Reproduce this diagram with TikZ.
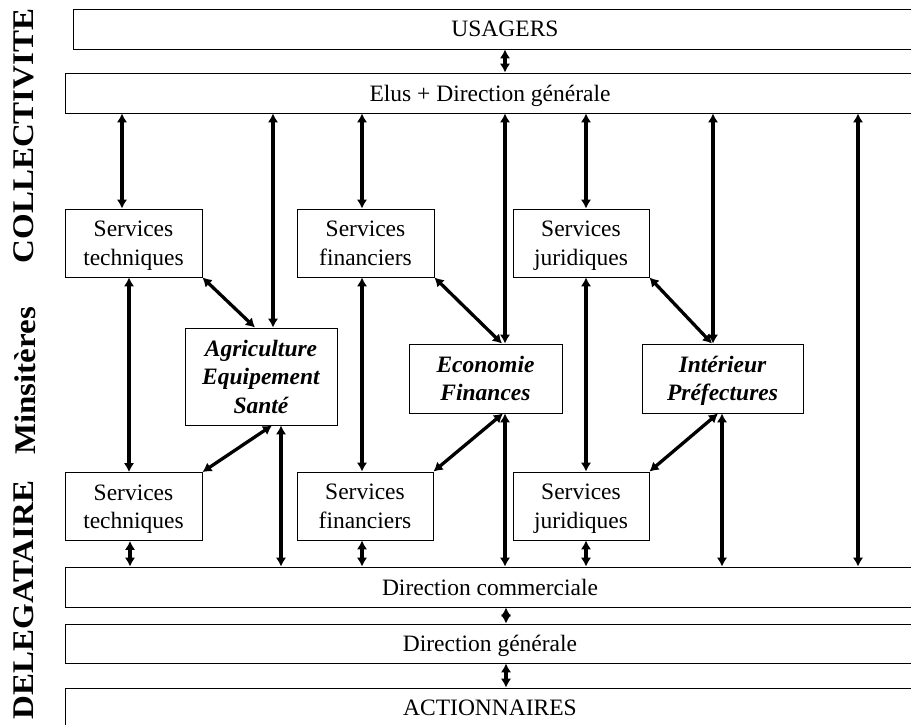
\documentclass[tikz,border=0pt]{standalone}
\usepackage{fontspec}
\setmainfont{Liberation Serif}
\usepackage{graphicx}
\usetikzlibrary{arrows.meta}
\newcommand{\vlink}[3]{\draw[link] (#1 -| #3,0) -- (#2 -| #3,0);}
\newcommand{\dlink}[2]{\draw[link] (#1) -- (#2);}
\newcommand{\side}[1]{\scalebox{1.1}[1]{\fontsize{30}{30}\selectfont\bfseries #1}}

\begin{document}
\begin{tikzpicture}[x=1pt,y=-1pt,
	box/.style={draw,line width=0.9pt,inner sep=0pt,align=center,font=\fontsize{23.5}{28.5}\selectfont,text depth=0pt},
	serv/.style={box,minimum width=137pt,minimum height=68pt},
	mini/.style={box,font=\fontsize{23.5}{28.5}\selectfont\bfseries\itshape},
	bar/.style={box,minimum width=850pt,minimum height=40pt},
	link/.style={line width=3.3pt,{Latex[length=9pt,width=10.5pt]}-{Latex[length=9pt,width=10.5pt]}}]
	\useasboundingbox (0,0) rectangle (911,724);
	
	\node[rotate=90,inner sep=0pt](coll) at (24,136) {\side{COLLECTIVITE}};
	\node[rotate=90,inner sep=0pt](mins) at (25,381) {\side{Minsitères}};
	\node[rotate=90,inner sep=0pt](dele) at (24,600) {\side{DELEGATAIRE}};
	
	\node[bar,minimum width=864pt](usagers) at (505,29) {USAGERS};
	\node[bar](elus) at (490,93) {Elus + Direction générale};
	\node[bar](dircom) at (490,587) {Direction commerciale};
	\node[bar,minimum height=39pt](dirgen) at (490,643.5) {Direction générale};
	\node[bar](action) at (490,708) {ACTIONNAIRES};
	
	\node[serv](tech1) at (133.5,243) {Services\\techniques};
	\node[serv](fin1) at (365.5,243) {Services\\financiers};
	\node[serv,minimum width=136pt](jur1) at (581,243) {Services\\juridiques};
	\node[serv](tech2) at (133.5,506.5) {Services\\techniques};
	\node[serv,minimum width=136pt](fin2) at (365,506) {Services\\financiers};
	\node[serv,minimum width=136pt](jur2) at (581,506) {Services\\juridiques};
	
	\node[mini,minimum width=152pt,minimum height=97pt](agri) at (261,376.5) {Agriculture\\Equipement\\Santé};
	\node[mini,minimum width=153pt,minimum height=69pt](eco) at (485.5,378.5) {Economie\\Finances};
	\node[mini,minimum width=161pt,minimum height=69pt](int) at (722.5,378.5) {Intérieur\\Préfectures};
	
	\vlink{usagers.south}{elus.north}{505}
	\vlink{elus.south}{tech1.north}{122}
	\vlink{elus.south}{agri.north}{273}
	\vlink{elus.south}{fin1.north}{362}
	\vlink{elus.south}{eco.north}{505}
	\vlink{elus.south}{jur1.north}{586}
	\vlink{elus.south}{int.north}{713}
	\vlink{elus.south}{dircom.north}{858}
	\vlink{tech1.south}{tech2.north}{129}
	\vlink{fin1.south}{fin2.north}{362}
	\vlink{jur1.south}{jur2.north}{586}
	\vlink{tech2.south}{dircom.north}{130}
	\vlink{fin2.south}{dircom.north}{362}
	\vlink{jur2.south}{dircom.north}{586}
	\vlink{agri.south}{dircom.north}{281}
	\vlink{eco.south}{dircom.north}{505}
	\vlink{int.south}{dircom.north}{722}
	\vlink{dircom.south}{dirgen.north}{506}
	\vlink{dirgen.south}{action.north}{506}
	
	\dlink{tech1.south east}{agri.north -| 255,0}
	\dlink{fin1.south east}{eco.north -| 502,0}
	\dlink{jur1.south east}{int.north -| 712,0}
	\dlink{agri.south -| 272,0}{tech2.north east}
	\dlink{eco.south -| 503,0}{fin2.north east}
	\dlink{int.south -| 718,0}{jur2.north east}
\end{tikzpicture}
\end{document}
